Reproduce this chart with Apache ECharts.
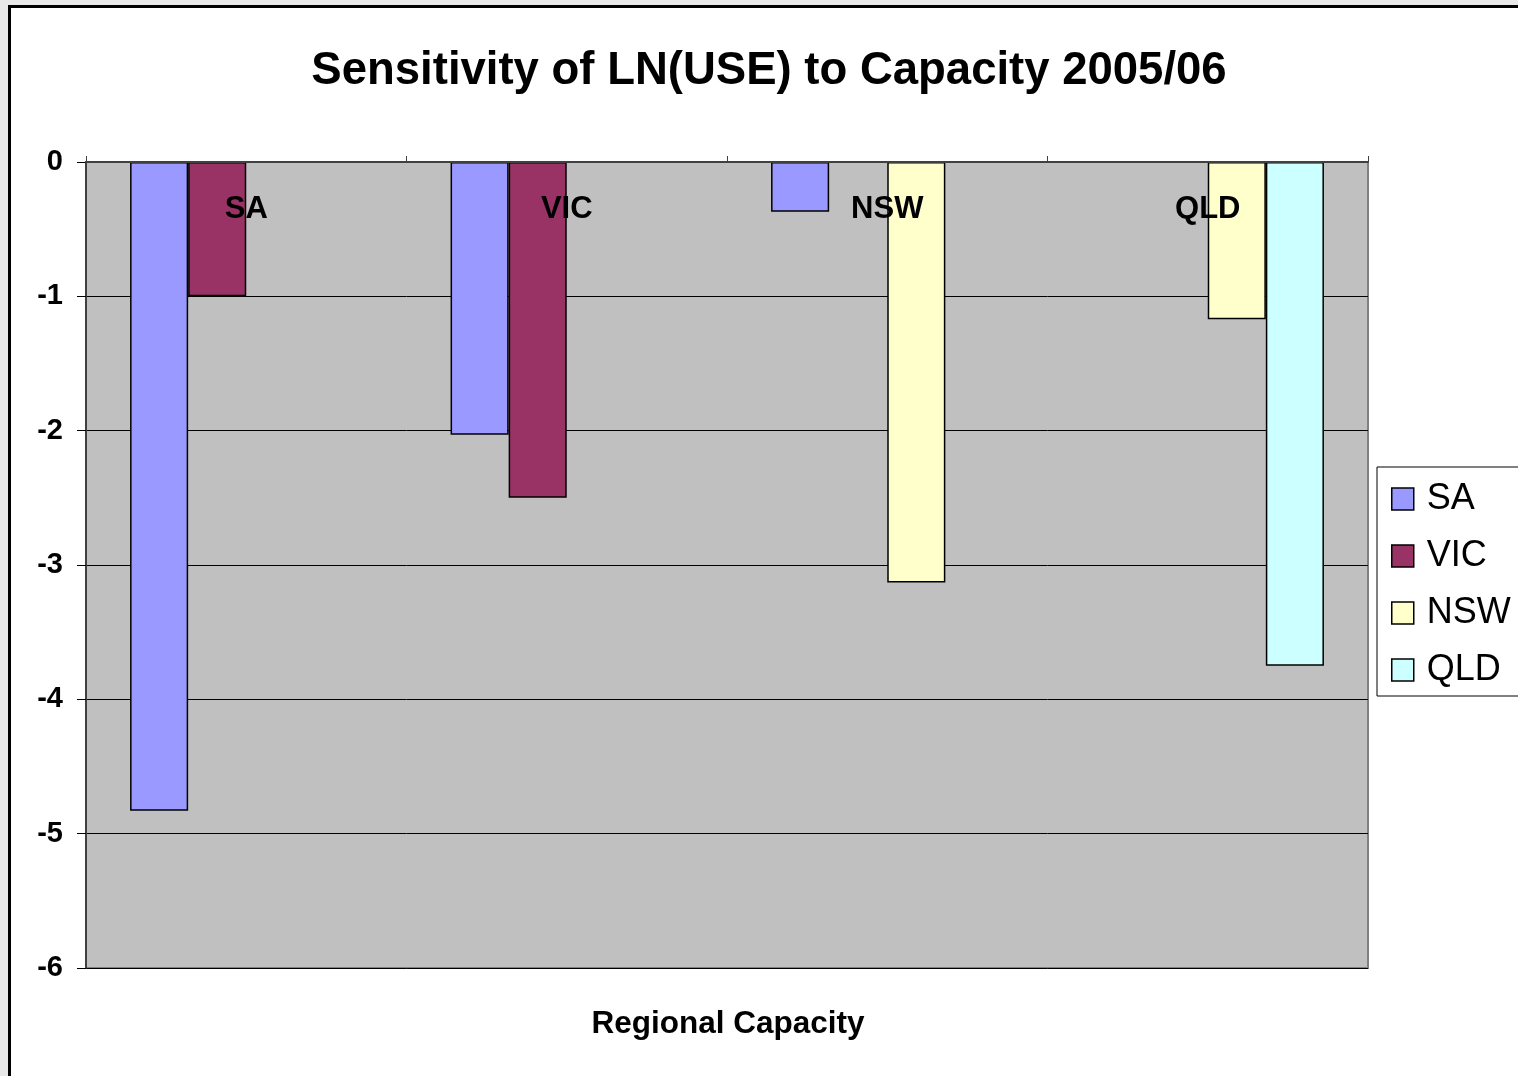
<!DOCTYPE html>
<html>
<head>
<meta charset="utf-8">
<script src="https://cdn.jsdelivr.net/npm/echarts@6/dist/echarts.min.js"></script>
<style>
  html, body { margin: 0; padding: 0; background: #e8e8e8; }
  #chart { width: 1518px; height: 1076px; }
</style>
</head>
<body>
<div id="chart"></div>
<script>
// categories along the x axis (shown at top, under the zero line)
const regions = ['SA', 'VIC', 'NSW', 'QLD'];
const yTicks = [0, -1, -2, -3, -4, -5, -6];

// one series per region, null where there is no bar
const saValues = [-4.83, -2.03, -0.37, null];
const vicValues = [-1.0, -2.5, null, null];
const nswValues = [null, null, -3.13, -1.17];
const qldValues = [null, null, null, -3.75];

const seriesColors = ['#9999FF', '#993366', '#FFFFCC', '#CCFFFF'];

const chart = echarts.init(document.getElementById('chart'));

const mkSeries = (name, data, color) => ({
    name: name,
    type: 'bar',
    data: data,
    barGap: 0,
    barCategoryGap: '27.5%',
    itemStyle: {
        color: color,
        borderColor: '#000',
        borderWidth: 1.5
    }
});

const option = {
    backgroundColor: '#e8e8e8',
    animation: false,
    graphic: [
        {
            type: 'rect',
            z: -10,
            shape: { x: 9.5, y: 6.5, width: 1540, height: 1100 },
            style: { fill: '#fff', stroke: '#000', lineWidth: 3 }
        }
    ],
    title: [
        {
            text: 'Sensitivity of LN(USE) to Capacity 2005/06',
            left: 764,
            top: 43,
            textAlign: 'center',
            textStyle: { fontFamily: 'Arial, Liberation Sans', fontSize: 45.5, fontWeight: 'bold', color: '#000' }
        },
        {
            text: 'Regional Capacity',
            left: 723,
            top: 1003,
            textAlign: 'center',
            textStyle: { fontFamily: 'Arial, Liberation Sans', fontSize: 31.5, fontWeight: 'bold', color: '#000' }
        }
    ],
    legend: {
        orient: 'vertical',
        left: 1377,
        top: 467,
        padding: [14, 60, 8, 14],
        itemWidth: 22,
        itemHeight: 22,
        itemGap: 21,
        backgroundColor: '#fff',
        borderColor: '#000',
        borderWidth: 1,
        borderRadius: 0,
        icon: 'rect',
        itemStyle: { borderColor: '#000', borderWidth: 1.5 },
        textStyle: { fontFamily: 'Arial, Liberation Sans', fontSize: 36, color: '#000', padding: [0, 0, 0, 8] },
        data: regions
    },
    grid: {
        left: 86,
        top: 162,
        width: 1282,
        height: 806,
        show: true,
        backgroundColor: '#C0C0C0',
        borderColor: '#808080',
        borderWidth: 2
    },
    xAxis: {
        type: 'category',
        position: 'top',
        data: regions,
        z: 10,
        axisLine: { show: true, lineStyle: { color: '#404040', width: 2 } },
        axisTick: { show: true, length: 6, lineStyle: { color: '#404040', width: 1 } },
        axisLabel: {
            inside: true,
            margin: 32,
            fontFamily: 'Arial, Liberation Sans',
            fontSize: 31,
            fontWeight: 'bold',
            color: '#000'
        },
        splitLine: { show: false }
    },
    yAxis: {
        type: 'value',
        min: -6,
        max: 0,
        interval: 1,
        axisLine: { show: true, lineStyle: { color: '#404040', width: 2 } },
        axisTick: { show: true, length: 9, lineStyle: { color: '#000', width: 1 } },
        axisLabel: {
            margin: 23,
            fontFamily: 'Arial, Liberation Sans',
            fontSize: 29,
            fontWeight: 'bold',
            color: '#000',
            formatter: v => yTicks.includes(v) ? String(v) : ''
        },
        splitLine: { show: true, lineStyle: { color: '#000', width: 1 } }
    },
    series: [
        mkSeries('SA', saValues, seriesColors[0]),
        mkSeries('VIC', vicValues, seriesColors[1]),
        mkSeries('NSW', nswValues, seriesColors[2]),
        mkSeries('QLD', qldValues, seriesColors[3])
    ]
};

chart.setOption(option);
</script>
</body>
</html>
